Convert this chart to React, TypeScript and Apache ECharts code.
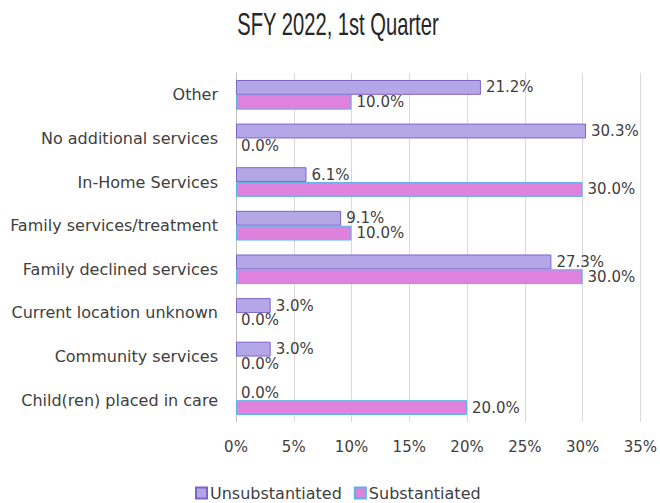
import React, { useEffect, useRef } from "react";
import * as echarts from "echarts";

const categories = [
  "Other",
  "No additional services",
  "In-Home Services",
  "Family services/treatment",
  "Family declined services",
  "Current location unknown",
  "Community services",
  "Child(ren) placed in care",
];
const unsubstantiated = [21.2, 30.3, 6.1, 9.1, 27.3, 3.0, 3.0, 0.0];
const substantiated = [10.0, 0.0, 30.0, 10.0, 30.0, 0.0, 0.0, 20.0];
const seriesNames = ["Unsubstantiated", "Substantiated"];
const titleText = "SFY 2022, 1st Quarter";

const toItems = (vals: number[]) =>
  vals.map((v) => (v === 0 ? { value: v, itemStyle: { borderWidth: 0 } } : { value: v }));

export default function App() {
  const ref = useRef<HTMLDivElement>(null);
  useEffect(() => {
    document.body.style.margin = "0";
    if (!ref.current) return;
    const chart = echarts.init(ref.current, undefined, { renderer: "svg" });
    const font = "'DejaVu Sans', sans-serif";
    const fs = 15;
    const label = {
      show: true,
      position: "right" as const,
      distance: 5,
      color: "#404040",
      fontSize: fs,
      fontFamily: font,
      formatter: (p: any) => Number(p.value).toFixed(1) + "%",
    };
    chart.setOption({
      animation: false,
      graphic: [
        {
          type: "text",
          x: 338,
          y: 24,
          scaleX: 0.63,
          style: {
            text: titleText,
            fontFamily: "'Liberation Sans', sans-serif",
            fontSize: 32,
            fill: "#262626",
            textAlign: "center",
            textVerticalAlign: "middle",
          },
        },
      ],
      legend: {
        top: 480,
        left: 190,
        itemWidth: 11,
        itemHeight: 11,
        itemGap: 12,
        icon: "rect",
        textStyle: { fontFamily: font, fontSize: 16, color: "#404040", padding: [0, 0, 0, -2] },
        data: seriesNames,
      },
      grid: { left: 236, right: 17, top: 73, bottom: 81, containLabel: false },
      xAxis: {
        type: "value",
        min: 0,
        max: 35,
        interval: 5,
        axisLabel: {
          formatter: "{value}%",
          color: "#404040",
          fontSize: fs,
          fontFamily: font,
          margin: 17,
        },
        splitLine: { lineStyle: { color: "#d9d9d9" } },
        axisLine: { show: false },
        axisTick: { show: false },
      },
      yAxis: {
        type: "category",
        data: categories,
        inverse: true,
        axisLabel: { color: "#404040", fontSize: 16, fontFamily: font, margin: 18 },
        axisLine: { lineStyle: { color: "#bfbfbf" } },
        axisTick: { show: false },
      },
      series: [
        {
          name: seriesNames[0],
          type: "bar",
          data: toItems(unsubstantiated),
          barGap: "0%",
          barCategoryGap: "32%",
          itemStyle: { color: "#b4a7e8", borderColor: "#7f63c9", borderWidth: 1 },
          label,
        },
        {
          name: seriesNames[1],
          type: "bar",
          data: toItems(substantiated),
          barGap: "0%",
          barCategoryGap: "32%",
          itemStyle: { color: "#de82de", borderColor: "#5cb4e6", borderWidth: 1 },
          label,
        },
      ],
    });
    return () => chart.dispose();
  }, []);
  return <div ref={ref} style={{ width: 660, height: 503 }} />;
}
